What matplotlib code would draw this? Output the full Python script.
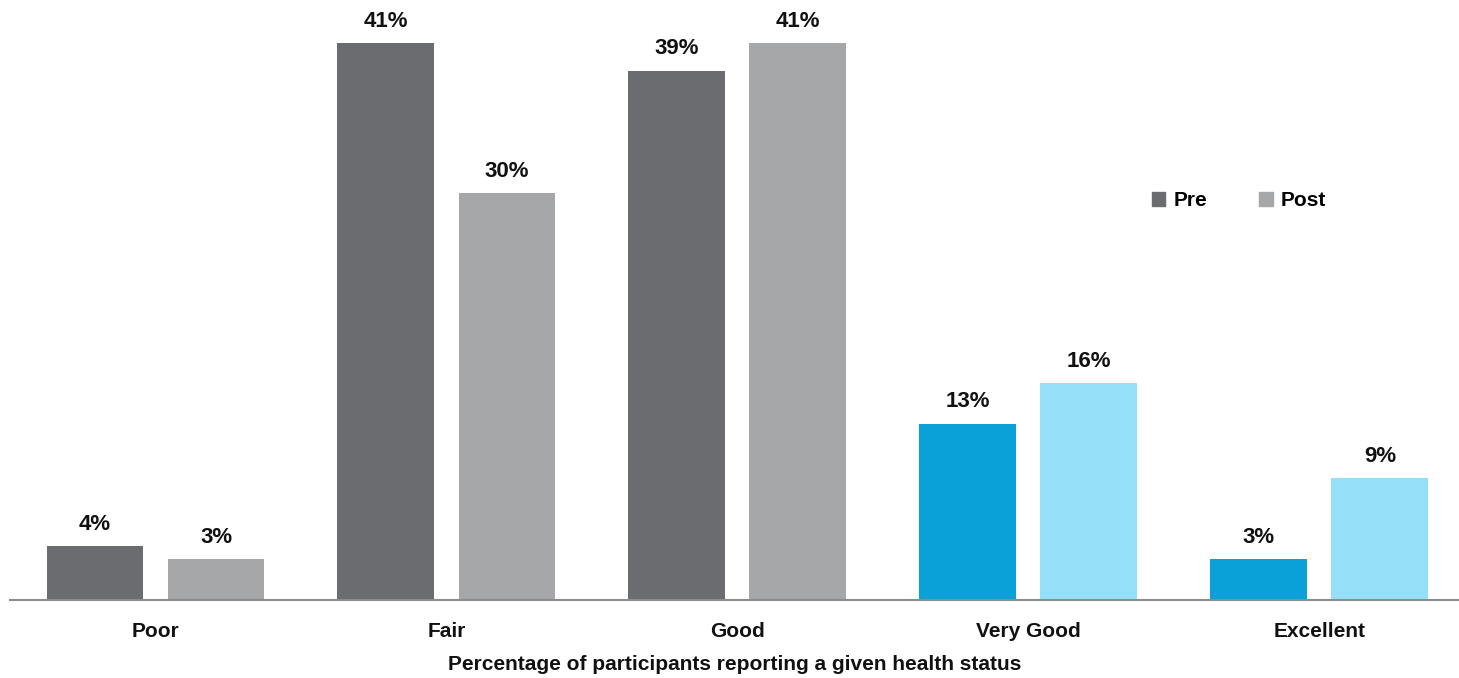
import numpy as np
import matplotlib.pyplot as plt
from matplotlib.patches import Patch

categories = ["Poor", "Fair", "Good", "Very Good", "Excellent"]
pre = [4, 41, 39, 13, 3]
post = [3, 30, 41, 16, 9]

# grey for the lower statuses, blue for the top two
pre_colors = ["#6b6c70", "#6b6c70", "#6b6c70", "#0aa1d9", "#0aa1d9"]
post_colors = ["#a6a7a9", "#a6a7a9", "#a6a7a9", "#96dff9", "#96dff9"]

plt.rcParams['font.family'] = ['Liberation Sans', 'DejaVu Sans']

fig = plt.figure(figsize=(14.59, 6.78), dpi=100)
ax = fig.add_axes([10 / 1459, 78 / 678, 1449 / 1459, 600 / 678])

x = np.arange(len(categories))
width = 0.333
offset = 0.208

bars_pre = ax.bar(x - offset, pre, width, color=pre_colors)
bars_post = ax.bar(x + offset, post, width, color=post_colors)

for bars, vals in [(bars_pre, pre), (bars_post, post)]:
    for b, v in zip(bars, vals):
        ax.annotate(f"{v}%", (b.get_x() + b.get_width() / 2, v),
                    xytext=(0, 8), textcoords="offset points",
                    ha="center", va="bottom", fontsize=16, fontweight="semibold",
                    color="#111111")

ax.set_xlim(-0.5, 4.48)
ax.set_ylim(0, 44.2)

# only the baseline stays
for side in ["left", "right", "top"]:
    ax.spines[side].set_visible(False)
ax.spines["bottom"].set_color("#8c8c8c")
ax.spines["bottom"].set_linewidth(1.5)
ax.set_yticks([])
ax.set_xticks(x)
ax.set_xticklabels(categories, fontsize=15, fontweight="bold", color="#111111")
ax.tick_params(axis="x", length=0, pad=16)
ax.set_xlabel("Percentage of participants reporting a given health status",
              fontsize=15, fontweight="bold", color="#111111", labelpad=10)

handles = [Patch(color="#6b6c70", label="Pre"), Patch(color="#a6a7a9", label="Post")]
ax.legend(handles=handles, loc="center", bbox_to_anchor=(1229 / 1449, 399 / 600),
          ncol=2, frameon=False, handlelength=0.65, handleheight=0.65,
          columnspacing=2.5, handletextpad=0.4,
          prop={"weight": "bold", "size": 15})

fig.savefig("out.png", dpi=100)
